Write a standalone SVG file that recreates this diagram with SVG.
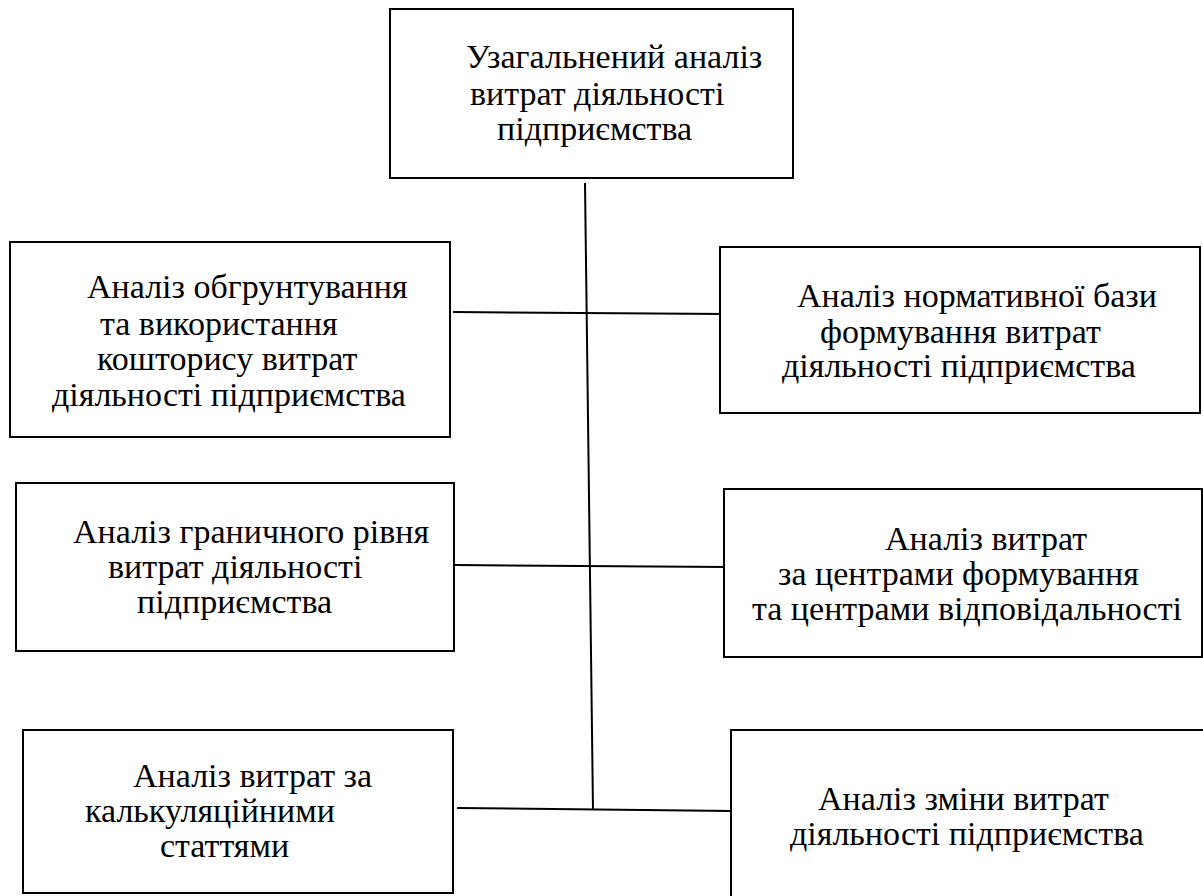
<svg xmlns="http://www.w3.org/2000/svg" width="1203" height="896" viewBox="0 0 1203 896">
<style>
.box{fill:#fff;stroke:#000;stroke-width:2}
.t{font-size:34px;fill:#000}
.c{stroke:#000;stroke-width:2;fill:none}
</style>
<rect width="1203" height="896" fill="#fff"/>
<g id="connectors">
<line class="c" x1="585" y1="183" x2="593" y2="810"/>
<line class="c" x1="453" y1="312" x2="727" y2="314"/>
<line class="c" x1="455" y1="565" x2="727" y2="567"/>
<line class="c" x1="457" y1="808" x2="732" y2="811"/>
</g>
<g id="top">
<rect class="box" x="390" y="9" width="403" height="169"/>
<text class="t" style="font-family:Liberation Serif"><tspan x="466" y="68">Узагальнений аналіз</tspan><tspan x="470" y="105">витрат діяльності</tspan><tspan x="497" y="140">підприємства</tspan></text>
</g>
<g id="left1">
<rect class="box" x="10" y="242" width="440" height="195"/>
<text class="t" style="font-family:serif"><tspan x="87" y="298">Аналіз обгрунтування</tspan><tspan x="100" y="335">та використання</tspan><tspan x="97" y="370">кошторису витрат</tspan><tspan x="52" y="406">діяльності підприємства</tspan></text>
</g>
<g id="right1">
<rect class="box" x="720" y="247" width="480" height="166"/>
<text class="t" style="font-family:Liberation Serif"><tspan x="797" y="307">Аналіз нормативної бази</tspan><tspan x="820" y="343">формування витрат</tspan><tspan x="782" y="377">діяльності підприємства</tspan></text>
</g>
<g id="left2">
<rect class="box" x="16" y="483" width="438" height="168"/>
<text class="t" style="font-family:serif"><tspan x="73" y="543">Аналіз граничного рівня</tspan><tspan x="108" y="578">витрат діяльності</tspan><tspan x="137" y="613">підприємства</tspan></text>
</g>
<g id="right2">
<rect class="box" x="724" y="489" width="478" height="168"/>
<text class="t" font-family="Liberation Serif"><tspan x="885" y="550">Аналіз витрат</tspan><tspan x="778" y="585">за центрами формування</tspan><tspan x="752" y="620">та центрами відповідальності</tspan></text>
</g>
<g id="left3">
<rect class="box" x="23" y="730" width="430" height="163"/>
<text class="t" font-family="Times New Roman, serif"><tspan x="133" y="787">Аналіз витрат за</tspan><tspan x="85" y="822">калькуляційними</tspan><tspan x="160" y="857">статтями</tspan></text>
</g>
<g id="right3">
<rect class="box" x="731" y="730" width="480" height="180"/>
<text class="t" font-family="Liberation Serif"><tspan x="818" y="810">Аналіз зміни витрат</tspan><tspan x="790" y="845">діяльності підприємства</tspan></text>
</g>
</svg>
